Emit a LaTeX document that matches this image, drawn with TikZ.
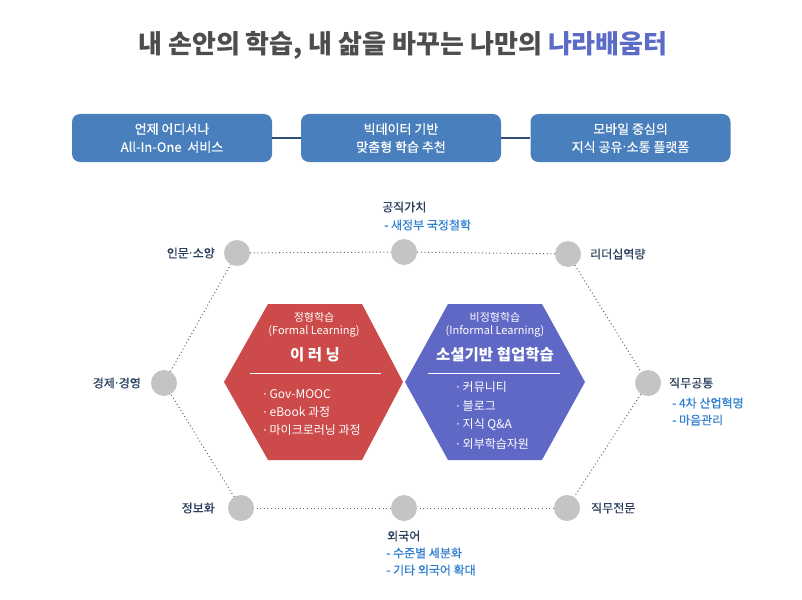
\documentclass[tikz,border=0pt]{standalone}
\usepackage{fontspec}
\setmainfont{Noto Sans CJK KR}
\newfontfamily\medfont[FakeBold=0.7]{Noto Sans CJK KR}
\newfontfamily\semifont[FakeBold=0.35]{Noto Sans CJK KR}
\newfontfamily\dotfont{DejaVu Sans}
\newcommand{\mdot}{{\dotfont ·}}
\definecolor{titlegray}{HTML}{4D4D4D}
\definecolor{titleblue}{HTML}{5B6BC6}
\definecolor{boxblue}{HTML}{4A7FBD}
\definecolor{connblue}{HTML}{2E4D75}
\definecolor{circgray}{HTML}{C4C4C4}
\definecolor{dotgray}{HTML}{666666}
\definecolor{hexred}{HTML}{CD4A4A}
\definecolor{hexblue}{HTML}{6068C6}
\definecolor{labnavy}{HTML}{2B3F5C}
\definecolor{subblue}{HTML}{2F7FD0}
\tikzset{
  topbox/.style={fill=boxblue, rounded corners=8pt, minimum width=200pt, minimum height=48pt,
    text=white, align=center, font=\semifont\fontsize{13}{18}\selectfont, inner sep=0pt},
  conn/.style={draw=connblue, line width=1.2pt},
  dotc/.style={circle, fill=circgray, minimum size=26pt, inner sep=0pt},
  dotline/.style={draw=dotgray, line width=1pt, dash pattern=on 1pt off 2.6pt},
  lab/.style={text=labnavy, font=\medfont\fontsize{12}{14}\selectfont, inner sep=0pt},
  sublab/.style={text=subblue, font=\medfont\fontsize{12}{14}\selectfont, inner sep=0pt},
  hexsmall/.style={text=white, font=\fontsize{11}{13}\selectfont, inner sep=0pt},
  hexbig/.style={text=white, font=\fontsize{15.5}{18}\selectfont\bfseries, inner sep=0pt},
  hexitem/.style={text=white, font=\fontsize{12}{14}\selectfont, inner sep=0pt, anchor=west},
}
\begin{document}
\begin{tikzpicture}[x=1pt,y=-1pt]
\useasboundingbox (0,0) rectangle (802,599);
% title
\node[font=\fontsize{26}{30}\selectfont\bfseries, inner sep=0pt] (title) at (403,45)
  {\textcolor{titlegray}{내 손안의 학습, 내 삶을 바꾸는 나만의} \textcolor{titleblue}{나라배움터}};
% top boxes
\node[topbox] (b1) at (172,138) {언제 어디서나\\All-In-One\ \ 서비스};
\node[topbox] (b2) at (401,138) {빅데이터 기반\\맞춤형 학습 추천};
\node[topbox] (b3) at (630.5,138) {모바일 중심의\\지식 공유\mdot 소통 플랫폼};
\draw[conn] (b1) -- (b2);
\draw[conn] (b2) -- (b3);
% circles
\node[dotc] (c1) at (237,253) {};
\node[dotc] (c2) at (404,252) {};
\node[dotc] (c3) at (568,254) {};
\node[dotc] (c4) at (648,383) {};
\node[dotc] (c5) at (567,508) {};
\node[dotc] (c6) at (404,508) {};
\node[dotc] (c7) at (241,508) {};
\node[dotc] (c8) at (164,383) {};
\draw[dotline] (c1) -- (c2);
\draw[dotline] (c2) -- (c3);
\draw[dotline] (c3) -- (c4);
\draw[dotline] (c4) -- (c5);
\draw[dotline] (c5) -- (c6);
\draw[dotline] (c6) -- (c7);
\draw[dotline] (c7) -- (c8);
\draw[dotline] (c8) -- (c1);
% labels
\node[lab, anchor=east] (l1) at (215,253) {인문\mdot 소양};
\node[lab, anchor=west] (l2) at (382,207) {공직가치};
\node[sublab, anchor=west] (l2a) at (384,225) {- 새정부 국정철학};
\node[lab, anchor=west] (l3) at (590,254) {리더십역량};
\node[lab, anchor=west] (l4) at (669,383) {직무공통};
\node[sublab, anchor=west] (l4a) at (672,403) {- 4차 산업혁명};
\node[sublab, anchor=west] (l4b) at (672,420) {- 마음관리};
\node[lab, anchor=west] (l5) at (591,508) {직무전문};
\node[lab, anchor=west] (l6) at (387,536) {외국어};
\node[sublab, anchor=west] (l6a) at (386,553) {- 수준별 세분화};
\node[sublab, anchor=west] (l6b) at (386,570) {- 기타 외국어 확대};
\node[lab, anchor=east] (l7) at (215,508) {정보화};
\node[lab, anchor=east] (l8) at (141,383) {경제\mdot 경영};
% hexagons
\fill[hexred] (224,382) -- (268,304) -- (362,304) -- (403,382) -- (362,460) -- (268,460) -- cycle;
\fill[hexblue] (405,382) -- (448,304) -- (542,304) -- (585,382) -- (542,460) -- (448,460) -- cycle;
% red text
\node[hexsmall] (r1) at (314,317) {정형학습};
\node[hexsmall] (r2) at (314,331) {(Formal Learning)};
\node[hexbig] (r3) at (315,355) {이 러 닝};
\coordinate (rl1) at (250,373);
\coordinate (rl2) at (381,373);
\draw[white, line width=1pt] (rl1) -- (rl2);
\node[hexitem] (r4) at (263,394) {\mdot\ Gov-MOOC};
\node[hexitem] (r5) at (263,412) {\mdot\ eBook 과정};
\node[hexitem] (r6) at (263,430) {\mdot\ 마이크로러닝 과정};
% blue text
\node[hexsmall] (u1) at (495,317) {비정형학습};
\node[hexsmall] (u2) at (495,331) {(Informal Learning)};
\node[hexbig] (u3) at (495,355) {소셜기반 협업학습};
\coordinate (ul1) at (428,373);
\coordinate (ul2) at (560,373);
\draw[white, line width=1pt] (ul1) -- (ul2);
\node[hexitem] (u4) at (456,387) {\mdot\ 커뮤니티};
\node[hexitem] (u5) at (456,406) {\mdot\ 블로그};
\node[hexitem] (u6) at (456,425) {\mdot\ 지식 Q\&A};
\node[hexitem] (u7) at (456,444) {\mdot\ 외부학습자원};
\end{tikzpicture}
\end{document}
